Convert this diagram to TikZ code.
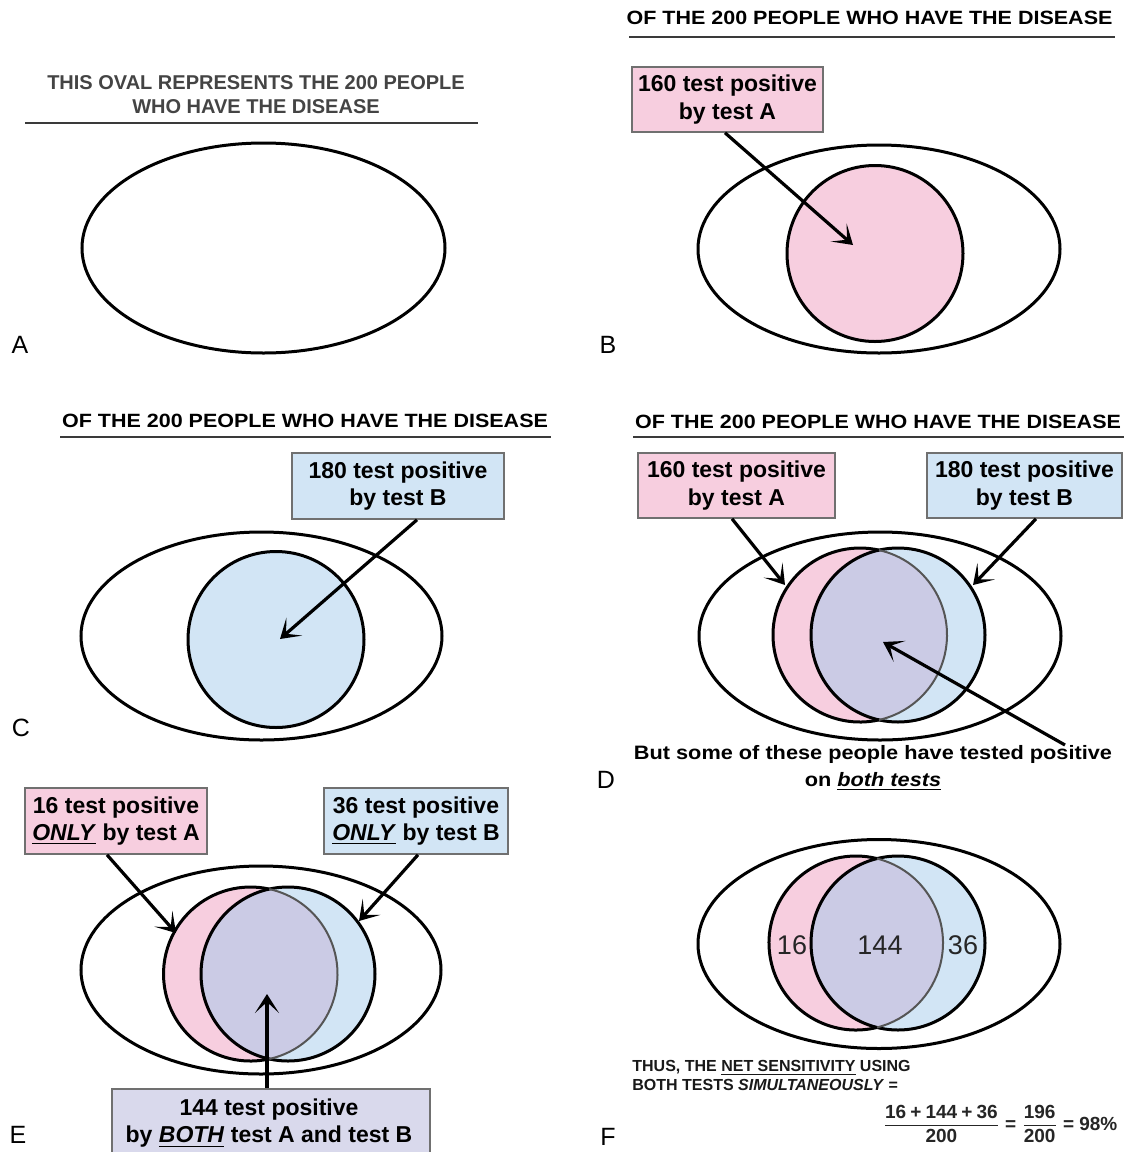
\documentclass[tikz,border=0pt]{standalone}
\usepackage{fontspec}
\setmainfont{Liberation Sans}
\newfontfamily\stretchfont{Liberation Sans}[FakeStretch=1.12]
\usetikzlibrary{arrows.meta,calc}
\definecolor{pinkA}{HTML}{F7CEDF}
\definecolor{blueB}{HTML}{D2E5F5}
\definecolor{lav}{HTML}{CBCBE5}
\definecolor{lavbox}{HTML}{D9D9EC}
\definecolor{boxline}{HTML}{707070}
\definecolor{titlegrey}{HTML}{444444}
\definecolor{rulegrey}{HTML}{3A3A3A}
\definecolor{arcgrey}{HTML}{555555}
\newcommand{\bplus}{\mathbin{\mbox{\bfseries +}}}
\newcommand{\beq}{\mathrel{\mbox{\bfseries =}}}
\newcommand{\sensformula}{$\displaystyle\frac{\mathbf{16}\bplus\mathbf{144}\bplus\mathbf{36}}{\mathbf{200}}\beq\frac{\mathbf{196}}{\mathbf{200}}\beq\mathbf{98}\textbf{\%}$}
\newcommand{\vennpair}[4]{%
  \pgfmathsetmacro{\vth}{acos((#2-#1)/2/#4)}%
  \fill[pinkA] (#1,#3) circle[radius=#4];
  \fill[blueB] (#2,#3) circle[radius=#4];
  \begin{scope}\clip (#1,#3) circle[radius=#4]; \fill[lav] (#2,#3) circle[radius=#4];\end{scope}
  \draw[ring] (#2,#3) circle[radius=#4];
  \draw[ring] (#1,#3) ++(\vth:#4) arc[start angle=\vth, end angle={360-\vth}, radius=#4];
  \draw[innerarc] (#1,#3) ++(-\vth:#4) arc[start angle=-\vth, end angle=\vth, radius=#4];
}
\begin{document}
\begin{tikzpicture}[x=0.5pt,y=-0.5pt,
  oval/.style={draw=black,line width=1.5pt,fill=white},
  ring/.style={draw=black,line width=1.5pt},
  innerarc/.style={draw=arcgrey,line width=1pt},
  rulestyle/.style={draw=rulegrey,line width=1pt},
  arr/.style={line width=1.6pt,-{Stealth[length=9.5pt,width=12pt,inset=5.5pt]}},
  boxbase/.style={draw=boxline,line width=0.8pt,align=center,inner sep=0pt,
    font=\bfseries\fontsize{11.5}{13.8}\selectfont},
  pinkbox/.style={boxbase,fill=pinkA},
  bluebox/.style={boxbase,fill=blueB},
  lavbox/.style={boxbase,fill=lavbox},
  titletext/.style={font=\stretchfont\bfseries\fontsize{9.6}{12}\selectfont,inner sep=0pt},
  paneltag/.style={font=\fontsize{12.5}{14}\selectfont,inner sep=0pt},
  vennnum/.style={font=\fontsize{13.5}{15}\selectfont,text=black!85,inner sep=0pt}
]
\clip (0,0) rectangle (1128,1152);
\fill[white] (0,0) rectangle (1128,1152);

% ---------------- Panel A ----------------
\node[font=\bfseries\fontsize{10}{12}\selectfont,text=titlegrey,align=center,inner sep=0pt] (tA) at (256,95)
  {THIS OVAL REPRESENTS THE 200 PEOPLE\\WHO HAVE THE DISEASE};
\draw[rulestyle] (25,123) -- (478,123);
\draw[oval] (263.5,248) ellipse[x radius=181.5, y radius=105];
\node[paneltag] (lA) at (20,345) {A};

% ---------------- Panel B ----------------
\node[titletext] (tB) at (869.5,18) {OF THE 200 PEOPLE WHO HAVE THE DISEASE};
\draw[rulestyle] (629,37) -- (1115,37);
\draw[oval] (879,249) ellipse[x radius=181, y radius=104];
\fill[pinkA] (875,253.5) circle[radius=88];
\draw[ring] (875,253.5) circle[radius=88];
\node[pinkbox,minimum width=95.5pt,minimum height=32.5pt] (bB) at (727.5,99.5) {160 test positive\\by test A};
\coordinate (tipB) at (853,245);
\draw[arr] ([xshift=-1.25pt]bB.south) -- (tipB);
\node[paneltag] (lB) at (608,345) {B};

% ---------------- Panel C ----------------
\node[titletext] (tC) at (305,421) {OF THE 200 PEOPLE WHO HAVE THE DISEASE};
\draw[rulestyle] (60,437) -- (551,437);
\draw[oval] (261.5,636) ellipse[x radius=180.5, y radius=104];
\fill[blueB] (276,639.5) circle[radius=88];
\draw[ring] (276,639.5) circle[radius=88];
\node[bluebox,minimum width=106pt,minimum height=33pt] (bC) at (398,486) {180 test positive\\by test B};
\coordinate (tipC) at (280,639);
\draw[arr] ([xshift=9.5pt]bC.south) -- (tipC);
\node[paneltag] (lC) at (21,728) {C};

% ---------------- Panel D ----------------
\node[titletext] (tD0) at (878,422) {OF THE 200 PEOPLE WHO HAVE THE DISEASE};
\draw[rulestyle] (633,437) -- (1124,437);
\draw[oval] (880,636) ellipse[x radius=181, y radius=104];
\vennpair{860}{898}{635}{87}
\node[pinkbox,minimum width=98.5pt,minimum height=32.5pt] (bD1) at (736.5,485.5) {160 test positive\\by test A};
\node[bluebox,minimum width=97.5pt,minimum height=32.5pt] (bD2) at (1024.5,485.5) {180 test positive\\by test B};
\coordinate (tipD1) at (785,585);
\coordinate (tipD2) at (973,585);
\draw[arr] ([xshift=-2.25pt]bD1.south) -- (tipD1);
\draw[arr] ([xshift=5.75pt]bD2.south) -- (tipD2);
\node[font=\stretchfont\bfseries\fontsize{9.7}{13.5}\selectfont,align=center,inner sep=0pt] (tD) at (873,768)
  {But some of these people have tested positive\\on \underline{\textit{both tests}}};
\coordinate (tailD3) at (1065,745);
\coordinate (tipD3) at (883,642);
\draw[arr] (tailD3) -- (tipD3);
\node[paneltag] (lD) at (606,780) {D};

% ---------------- Panel E ----------------
\draw[oval] (261,970) ellipse[x radius=180, y radius=104];
\vennpair{250.5}{288}{974}{87}
\node[pinkbox,minimum width=91pt,minimum height=33pt] (bE1) at (116,821) {16 test positive\\\underline{\textit{ONLY}} by test A};
\node[bluebox,minimum width=92pt,minimum height=33pt] (bE2) at (416,821) {36 test positive\\\underline{\textit{ONLY}} by test B};
\coordinate (tipE1) at (176,933);
\coordinate (tipE2) at (359,921);
\draw[arr] ([xshift=-4.5pt]bE1.south) -- (tipE1);
\draw[arr] ([xshift=1pt]bE2.south) -- (tipE2);
\node[lavbox,minimum width=159pt,minimum height=45.5pt] (bE3) at (271,1134.5) {};
\node[font=\bfseries\fontsize{11.5}{13.5}\selectfont,align=center,inner sep=0pt] (tE3) at (269,1123.5)
  {144 test positive\\by \underline{\textit{BOTH}} test A and test B};
\coordinate (tipE3) at (267,994);
\draw[arr] ([xshift=-2pt]bE3.north) -- (tipE3);
\node[paneltag] (lE) at (18,1135) {E};

% ---------------- Panel F ----------------
\draw[oval] (879,944) ellipse[x radius=181, y radius=104.5];
\vennpair{856}{898}{943}{87}
\node[vennnum] (n16) at (792,945) {16};
\node[vennnum] (n144) at (880,945) {144};
\node[vennnum] (n36) at (963,945) {36};
\node[font=\bfseries\fontsize{8}{9.5}\selectfont,align=left,anchor=west,inner sep=0pt,text=black!90] (tF) at (632,1075.5)
  {THUS, THE \underline{NET SENSITIVITY} USING\\BOTH TESTS \textit{SIMULTANEOUSLY} =};
\node[font=\fontsize{9.5}{11}\selectfont,inner sep=0pt,text=black!85] (fF) at (1000,1124) {\sensformula};
\node[paneltag] (lF) at (608,1137) {F};
\end{tikzpicture}
\end{document}
